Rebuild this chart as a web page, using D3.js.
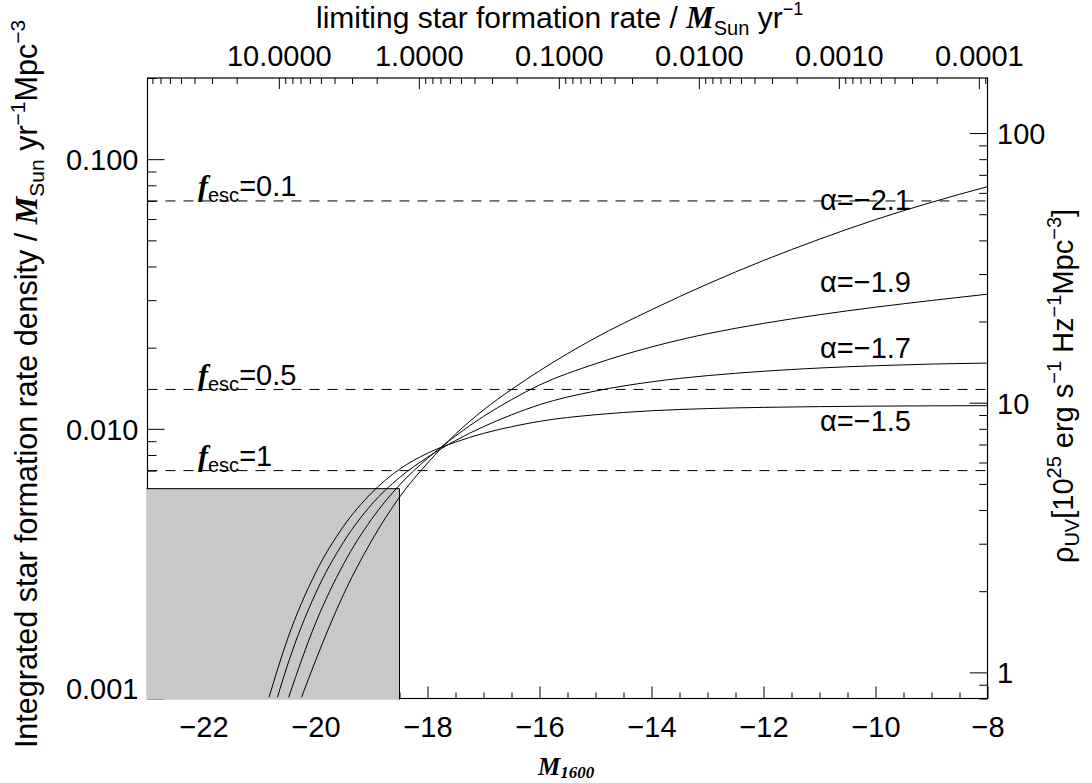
<!DOCTYPE html>
<html>
<head>
<meta charset="utf-8">
<script src="https://cdn.jsdelivr.net/npm/d3@7"></script>
<style>
  html, body { margin: 0; padding: 0; background: #ffffff; }
  svg text { font-family: "Liberation Sans", Arial, Helvetica, sans-serif; fill: #000; }
  .bi { font-family: "Liberation Serif", "Times New Roman", serif; font-weight: bold; font-style: italic; }
</style>
</head>
<body>
<svg id="chart" width="1092" height="783"></svg>
<script>
// ---- axes ----
const magDomain = [-23, -8];
const magTicks = [-22, -20, -18, -16, -14, -12, -10, -8];
const sfrdDomain = [0.001, 0.2];
const sfrdTicks = [0.001, 0.01, 0.1];
const sfrdTickLabels = ["0.001", "0.010", "0.100"];
const rhoDomain = [0.8, 160];
const rhoTicks = [1, 10, 100];
const rhoTickLabels = ["1", "10", "100"];
const limSfrDomain = [86.7, 0.0000867];
const limSfrTicks = [10, 1, 0.1, 0.01, 0.001, 0.0001];
const limSfrTickLabels = ["10.0000", "1.0000", "0.1000", "0.0100", "0.0010", "0.0001"];

// ---- escape-fraction requirements ----
const escLabels = ["0.1", "0.5", "1"];
const escSfrd = [0.07, 0.014, 0.007];

// ---- directly observed region ----
const observedMagLimit = -18.5;
const observedSfrd = 0.006;

// ---- integrated SFR density vs limiting magnitude, per faint-end slope ----
const alphaLabels = ["−2.1", "−1.9", "−1.7", "−1.5"];
const alphaLabelSfrd = [0.0649, 0.03215, 0.01831, 0.00978];

const magA21 = [-20.25, -20.0, -19.5, -19.0, -18.5, -18.0, -17.5, -17.0, -16.5, -16.0, -15, -14, -13, -12, -11, -10, -9, -8];
const sfrdA21 = [0.00101, 0.00138, 0.00243, 0.00384, 0.00558, 0.00746, 0.00956, 0.01175, 0.0140, 0.01641, 0.02176, 0.02764, 0.03444, 0.0421, 0.0505, 0.0597, 0.0692, 0.0791];

const magA19 = [-20.48, -20.0, -19.5, -19.0, -18.5, -18.0, -17.5, -17.0, -16.5, -16.0, -15, -14, -13, -12, -11, -10, -9, -8];
const sfrdA19 = [0.00101, 0.00190, 0.00315, 0.00462, 0.00619, 0.00777, 0.00941, 0.01112, 0.01283, 0.01454, 0.01743, 0.02012, 0.02253, 0.0246, 0.0265, 0.02826, 0.02992, 0.03158];

const magA17 = [-20.68, -20.5, -20.0, -19.5, -19.0, -18.5, -18.0, -17.5, -17.0, -16.5, -16.0, -15, -14, -13, -12, -11, -10, -9, -8];
const sfrdA17 = [0.00101, 0.00133, 0.00245, 0.00380, 0.00524, 0.00660, 0.00784, 0.00905, 0.01019, 0.01127, 0.01229, 0.01381, 0.01494, 0.01575, 0.01635, 0.01681, 0.01714, 0.01739, 0.01754];

const magA15 = [-20.83, -20.5, -20.0, -19.5, -19.0, -18.5, -18.0, -17.5, -17.0, -16.5, -16.0, -15, -14, -13, -12, -11, -10, -9, -8];
const sfrdA15 = [0.00101, 0.00166, 0.00292, 0.00435, 0.00578, 0.00708, 0.00812, 0.00893, 0.00962, 0.01018, 0.01066, 0.01128, 0.01167, 0.01189, 0.01201, 0.01209, 0.01214, 0.01217, 0.01219];

const curveMags = [magA21, magA19, magA17, magA15];
const curveSfrd = [sfrdA21, sfrdA19, sfrdA17, sfrdA15];

// ---- drawing ----
const svg = d3.select("#chart");
const X0 = 147.5, X1 = 987.5, Y0 = 78, Y1 = 698.5;
const FS = 29;

const x = d3.scaleLinear().domain(magDomain).range([X0, X1]);
const y = d3.scaleLog().domain(sfrdDomain).range([Y1, Y0]);
const yR = d3.scaleLog().domain(rhoDomain).range([Y1, Y0]);
const xT = d3.scaleLog().domain(limSfrDomain).range([X0, X1]);

function logMinors(domain) {
  const lo = Math.min(...domain), hi = Math.max(...domain), out = [];
  for (let e = Math.floor(Math.log10(lo)); e <= Math.ceil(Math.log10(hi)); e++) {
    for (let k = 2; k <= 9; k++) {
      const v = k * Math.pow(10, e);
      if (v >= lo * 0.9999 && v <= hi * 1.0001) out.push(v);
    }
  }
  return out;
}
const magMinors = d3.range(magDomain[0], magDomain[1] + 0.01, 0.5).filter(v => !magTicks.includes(v));

function styleAxis(g) {
  g.select(".domain").remove();
  g.selectAll(".tick line").attr("stroke", "#000").attr("stroke-width", 1);
  g.attr("font-size", FS).attr("font-family", null);
  return g;
}

// bottom
styleAxis(svg.append("g").attr("transform", `translate(0,${Y1})`)
  .call(d3.axisBottom(x).tickValues(magMinors).tickSize(-6).tickFormat("")));
styleAxis(svg.append("g").attr("transform", `translate(0,${Y1})`)
  .call(d3.axisBottom(x).tickValues(magTicks).tickSize(-12).tickFormat(d3.format("d"))))
  .selectAll("text").attr("y", 38.5).attr("dy", null);

// top
styleAxis(svg.append("g").attr("transform", `translate(0,${Y0})`)
  .call(d3.axisTop(xT).tickValues(logMinors(limSfrDomain)).tickSize(-6).tickFormat("")));
styleAxis(svg.append("g").attr("transform", `translate(0,${Y0})`)
  .call(d3.axisTop(xT).tickValues(limSfrTicks).tickSize(-11).tickFormat((d, i) => limSfrTickLabels[i])))
  .selectAll("text").attr("y", -12).attr("dy", null);

// left
styleAxis(svg.append("g").attr("transform", `translate(${X0},0)`)
  .call(d3.axisLeft(y).tickValues(logMinors(sfrdDomain)).tickSize(-9).tickFormat("")));
styleAxis(svg.append("g").attr("transform", `translate(${X0},0)`)
  .call(d3.axisLeft(y).tickValues(sfrdTicks).tickSize(-17).tickFormat((d, i) => sfrdTickLabels[i])))
  .selectAll("text").attr("x", -9).attr("dy", "0.36em")
  .attr("y", d => d === sfrdDomain[0] ? -10 : 0);

// right
styleAxis(svg.append("g").attr("transform", `translate(${X1},0)`)
  .call(d3.axisRight(yR).tickValues(logMinors(rhoDomain)).tickSize(-8.3).tickFormat("")));
styleAxis(svg.append("g").attr("transform", `translate(${X1},0)`)
  .call(d3.axisRight(yR).tickValues(rhoTicks).tickSize(-17.7).tickFormat((d, i) => rhoTickLabels[i])))
  .selectAll("text").attr("x", 9.5).attr("dy", "0.36em");

// frame
svg.append("rect")
  .attr("x", X0).attr("y", Y0).attr("width", X1 - X0).attr("height", Y1 - Y0)
  .attr("fill", "none").attr("stroke", "#000").attr("stroke-width", 1.2);

// observed region (covers the axes beneath it)
const gx = x(observedMagLimit), gy = y(observedSfrd);
svg.append("rect")
  .attr("x", X0 - 1).attr("y", gy).attr("width", gx - X0 + 1).attr("height", Y1 + 1 - gy)
  .attr("fill", "#c8c8c8");
svg.append("path")
  .attr("d", `M${X0 - 1},${gy}H${gx}V${Y1 + 1}`)
  .attr("fill", "none").attr("stroke", "#000").attr("stroke-width", 1);

// escape-fraction levels
svg.append("g").selectAll("line").data(escSfrd).join("line")
  .attr("x1", X0).attr("x2", X1)
  .attr("y1", d => y(d)).attr("y2", d => y(d))
  .attr("stroke", "#000").attr("stroke-width", 1).attr("stroke-dasharray", "10,8");

const escText = svg.append("g").selectAll("text").data(escSfrd).join("text")
  .attr("x", 198).attr("y", d => y(d) - 4.5).attr("font-size", FS);
escText.append("tspan").attr("class", "bi").attr("font-size", 30).text("f");
escText.append("tspan").attr("font-size", 20).attr("dy", 6).text("esc");
escText.append("tspan").attr("dy", -6).text((d, i) => "=" + escLabels[i]);

// curves
svg.append("clipPath").attr("id", "plotClip")
  .append("rect").attr("x", X0).attr("y", Y0).attr("width", X1 - X0).attr("height", Y1 - Y0);

const line = d3.line().x(d => x(d[0])).y(d => y(d[1])).curve(d3.curveMonotoneX);
svg.append("g").attr("clip-path", "url(#plotClip)")
  .selectAll("path").data(curveMags.map((m, i) => m.map((v, j) => [v, curveSfrd[i][j]])))
  .join("path")
  .attr("d", line).attr("fill", "none").attr("stroke", "#000").attr("stroke-width", 1);

svg.append("g").selectAll("text").data(alphaLabels).join("text")
  .attr("x", 820).attr("y", (d, i) => y(alphaLabelSfrd[i])).attr("font-size", FS)
  .text(d => "α=" + d);

// axis titles
const tTop = svg.append("text").attr("x", 316).attr("y", 28).attr("font-size", 30);
tTop.append("tspan").text("limiting star formation rate / ");
tTop.append("tspan").attr("class", "bi").attr("font-size", 31).text("M");
tTop.append("tspan").attr("font-size", 20).attr("dy", 7).text("Sun");
tTop.append("tspan").attr("dy", -7).text(" yr");
tTop.append("tspan").attr("font-size", 18).attr("dy", -13).text("−1");

const tBot = svg.append("text").attr("x", 538).attr("y", 775).attr("class", "bi").attr("font-size", 25);
tBot.append("tspan").text("M");
tBot.append("tspan").attr("font-size", 17).attr("dy", 3).text("1600");

const tLeft = svg.append("text").attr("transform", "translate(37,384) rotate(-90)")
  .attr("text-anchor", "middle").attr("font-size", 30.5);
tLeft.append("tspan").text("Integrated star formation rate density / ");
tLeft.append("tspan").attr("class", "bi").attr("font-size", 31).text("M");
tLeft.append("tspan").attr("font-size", 21).attr("dy", 7).text("Sun");
tLeft.append("tspan").attr("dy", -7).text(" yr");
tLeft.append("tspan").attr("font-size", 21).attr("dy", -12).text("−1");
tLeft.append("tspan").attr("dy", 12).text("Mpc");
tLeft.append("tspan").attr("font-size", 21).attr("dy", -12).text("−3");

const tRight = svg.append("text").attr("transform", "translate(1073,386) rotate(-90)")
  .attr("text-anchor", "middle").attr("font-size", FS);
tRight.append("tspan").text("ρ");
tRight.append("tspan").attr("font-size", 20).attr("dy", 6).text("UV");
tRight.append("tspan").attr("dy", -6).text("[10");
tRight.append("tspan").attr("font-size", 20).attr("dy", -12).text("25");
tRight.append("tspan").attr("dy", 12).text(" erg s");
tRight.append("tspan").attr("font-size", 20).attr("dy", -12).text("−1");
tRight.append("tspan").attr("dy", 12).text(" Hz");
tRight.append("tspan").attr("font-size", 20).attr("dy", -12).text("−1");
tRight.append("tspan").attr("dy", 12).text("Mpc");
tRight.append("tspan").attr("font-size", 20).attr("dy", -12).text("−3");
tRight.append("tspan").attr("dy", 12).text("]");
</script>
</body>
</html>
